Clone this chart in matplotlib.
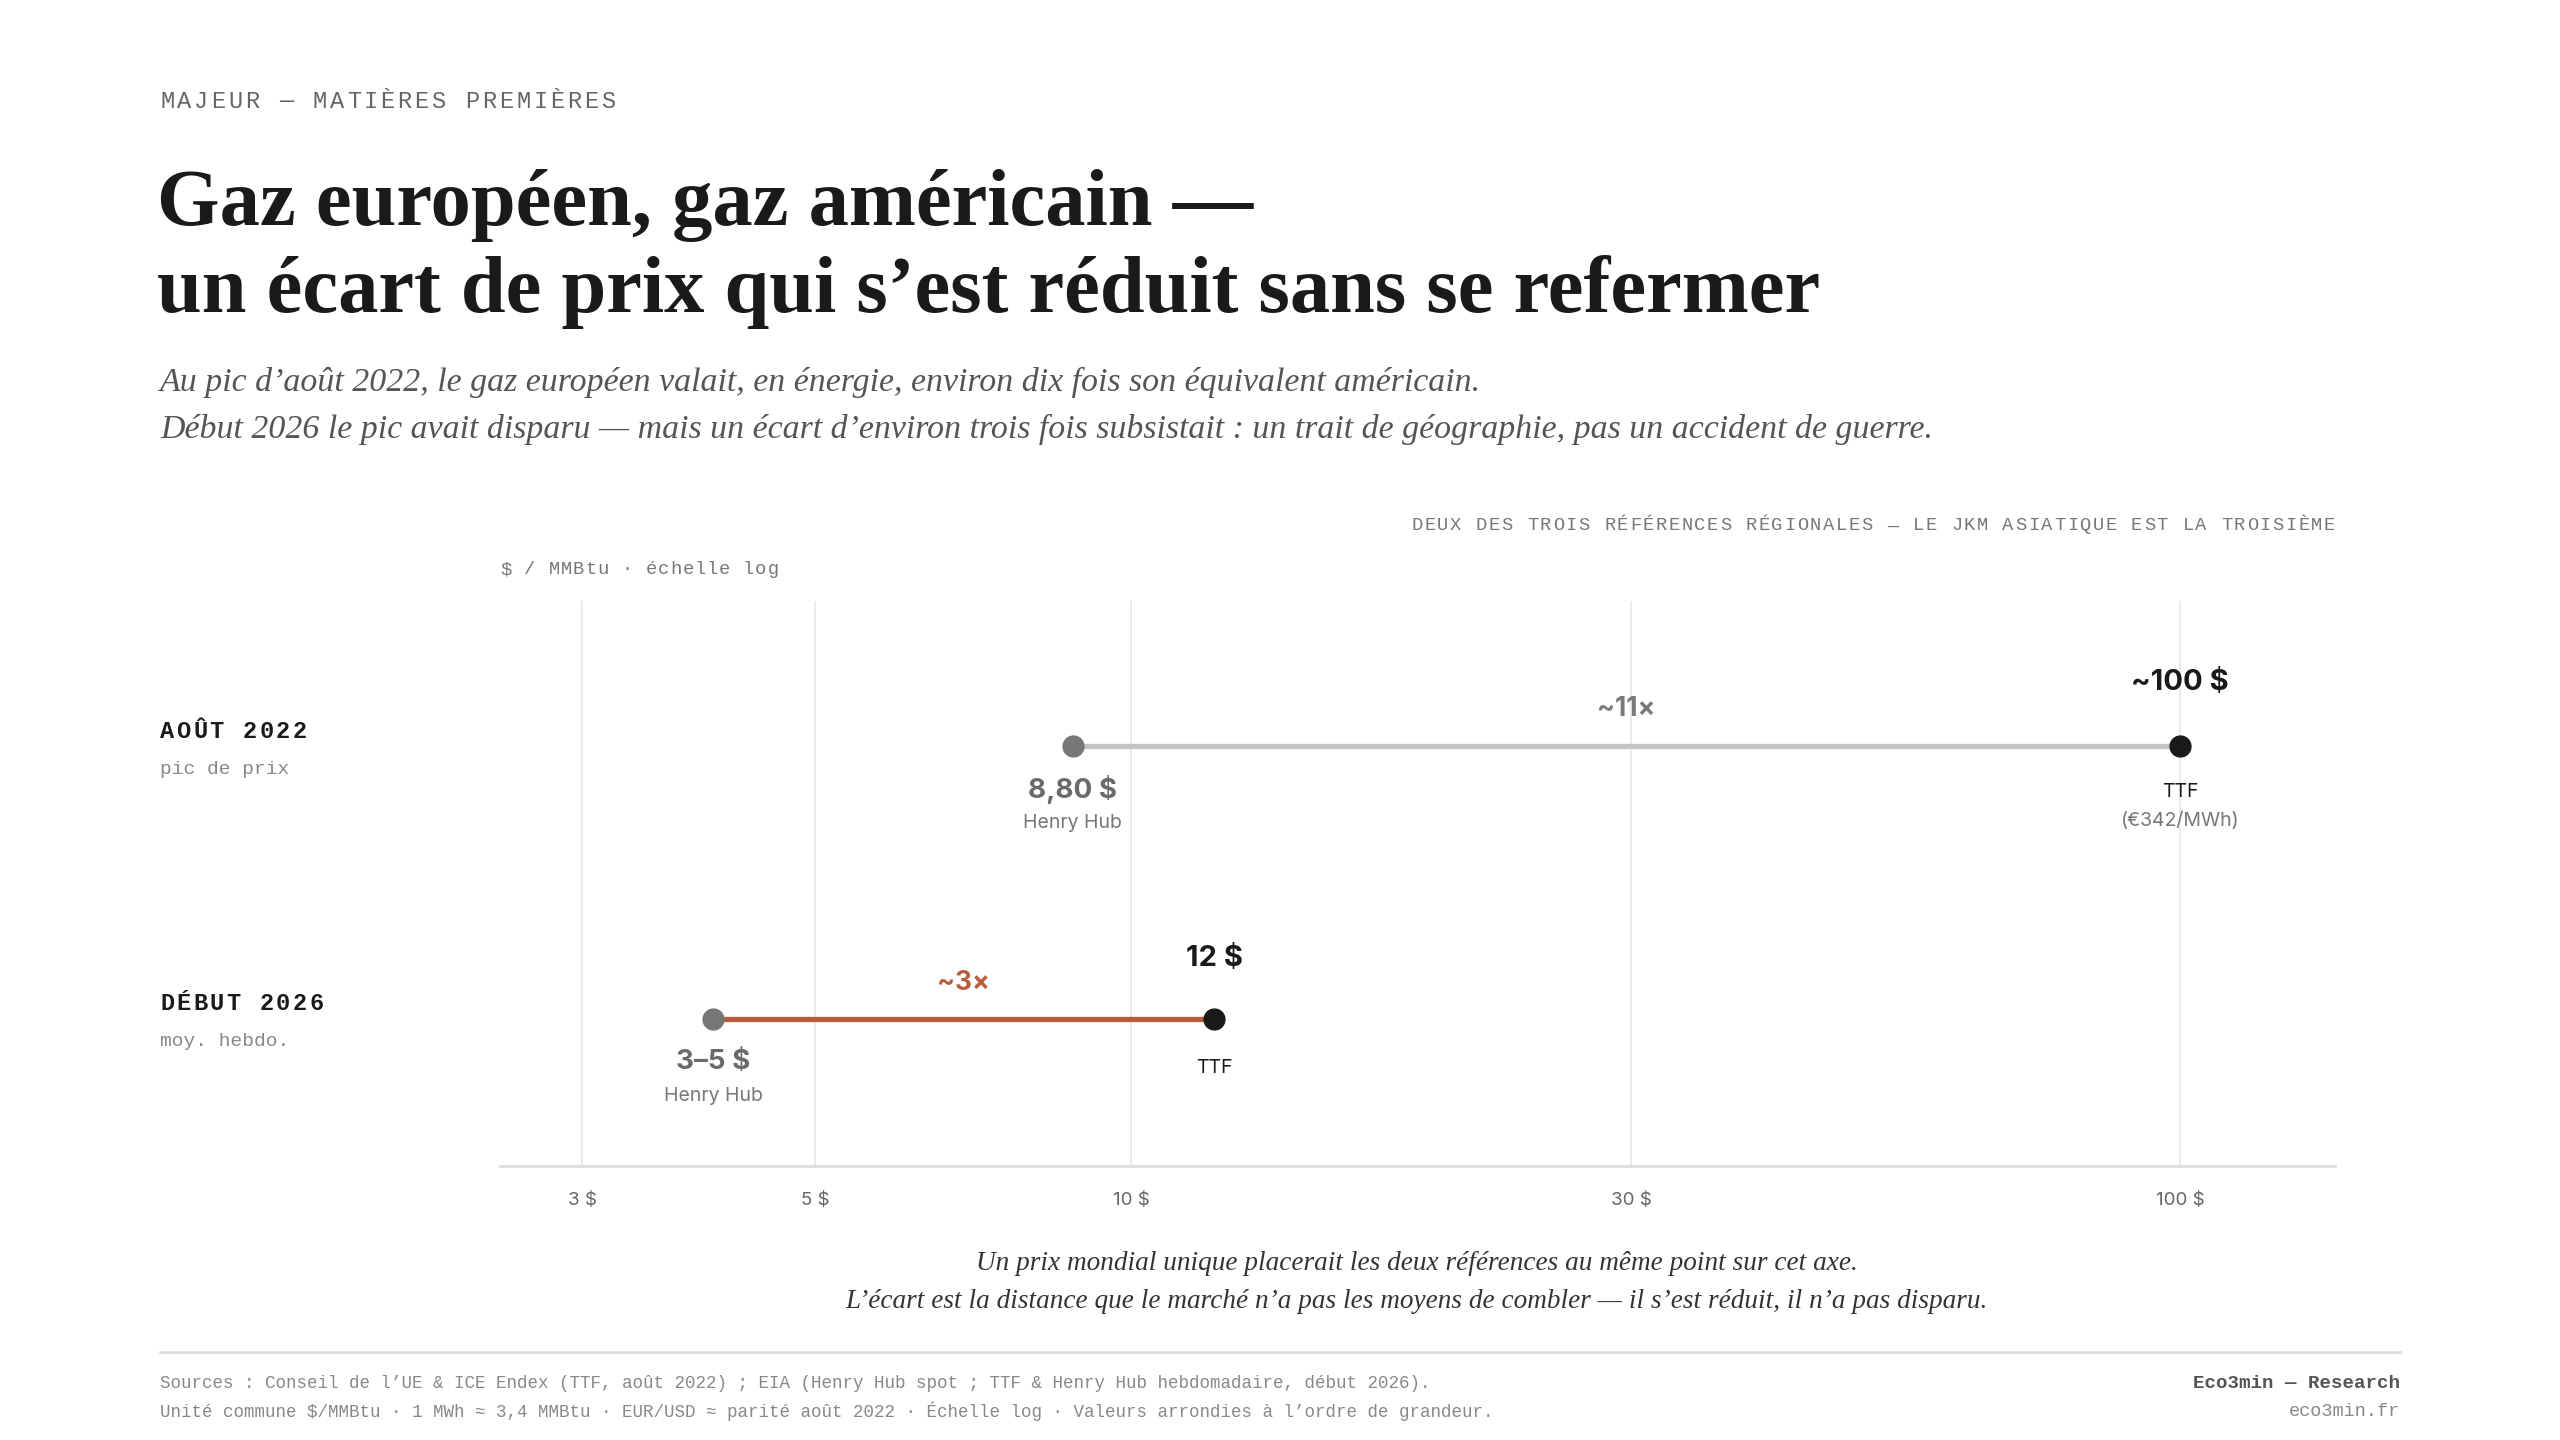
import matplotlib
matplotlib.use("Agg")
import matplotlib.pyplot as plt
import numpy as np

# data
periods = ["AOÛT 2022", "DÉBUT 2026"]
period_notes = ["pic de prix", "moy. hebdo."]
henry_hub = [8.8, 4.0]
ttf = [100, 12]
hh_labels = ["8,80 $", "3–5 $"]
ttf_labels = ["~100 $", "12 $"]
ttf_notes = ["(€342/MWh)", ""]
ratios = ["~11×", "~3×"]
ticks = [3, 5, 10, 30, 100]
tick_labels = ["3 $", "5 $", "10 $", "30 $", "100 $"]

W, H = 2560, 1440
fig = plt.figure(figsize=(25.6, 14.4), dpi=100, facecolor="white")

def fx(px):
    return px / W

def fy(py):
    return 1 - py / H

SERIF = ["Liberation Serif", "DejaVu Serif"]
MONO = ["Liberation Mono", "DejaVu Sans Mono"]
SANS = ["Inter", "DejaVu Sans"]

def mono_spaced(x, y, s, size, spacing, ha="left", **kw):
    # monospace text with letter spacing (spacing in px)
    adv = 0.6 * size * 100 / 72
    step = adv + spacing
    total = len(s) * step - spacing
    x0 = x - total if ha == "right" else x
    for i, ch in enumerate(s):
        if ch == " ":
            continue
        fig.text(fx(x0 + i * step + adv / 2), fy(y), ch, family=MONO, fontsize=size,
                 ha="center", va="center", **kw)

# header
mono_spaced(160, 101, "MAJEUR — MATIÈRES PREMIÈRES", 17, 2.8, color="#666666")
fig.text(fx(157), fy(205), "Gaz européen, gaz américain —", family=SERIF, fontsize=58,
         fontweight="bold", color="#1a1a1a", va="center")
fig.text(fx(157), fy(292), "un écart de prix qui s’est réduit sans se refermer", family=SERIF,
         fontsize=58, fontweight="bold", color="#1a1a1a", va="center")
fig.text(fx(160), fy(382), "Au pic d’août 2022, le gaz européen valait, en énergie, environ dix fois son équivalent américain.",
         family=SERIF, style="italic", fontsize=24.4, color="#555555", va="center")
fig.text(fx(160), fy(429), "Début 2026 le pic avait disparu — mais un écart d’environ trois fois subsistait : un trait de géographie, pas un accident de guerre.",
         family=SERIF, style="italic", fontsize=24.4, color="#555555", va="center")

mono_spaced(2335, 526, "DEUX DES TROIS RÉFÉRENCES RÉGIONALES — LE JKM ASIATIQUE EST LA TROISIÈME",
            13.5, 1.6, ha="right", color="#777777")
mono_spaced(500, 570, "$ / MMBtu · échelle log", 13.5, 0.9, color="#777777")

# chart
ax = fig.add_axes([fx(500), fy(1166), fx(2335) - fx(500), (1166 - 601) / H])
ax.set_xscale("log")
ax.set_xlim(2.504, 140.5)
ax.set_ylim(-0.538, 1.532)
ax.set_xticks(ticks)
ax.set_xticklabels(tick_labels, family=SANS, fontsize=13.5, color="#666666")
ax.minorticks_off()
ax.set_yticks([])
ax.tick_params(axis="x", length=0, pad=19)
for s in ["top", "left", "right"]:
    ax.spines[s].set_visible(False)
ax.spines["bottom"].set_color("#dddddd")
ax.spines["bottom"].set_linewidth(2)
ax.grid(axis="x", color="#ebebeb", linewidth=1.4)
ax.set_axisbelow(True)

row_y = [1, 0]
line_colors = ["#c4c4c4", "#b85c3c"]
ratio_colors = ["#7a7a7a", "#b85c3c"]
top_off = [46, 44]
ttf_off = [-33, -35]
hh_off = [-31, -31]
ratio_off = [27, 26]

for i in range(2):
    y = row_y[i]
    ax.plot([henry_hub[i], ttf[i]], [y, y], color=line_colors[i], lw=3.8, solid_capstyle="butt", zorder=2)
    ax.plot(henry_hub[i], y, "o", color="#777777", markersize=15, zorder=3)
    ax.plot(ttf[i], y, "o", color="#1a1a1a", markersize=15, zorder=3)
    gm = np.sqrt(henry_hub[i] * ttf[i])
    ax.annotate(ratios[i], (gm, y), xytext=(0, ratio_off[i]), textcoords="offset points",
                ha="center", va="center", family=SANS, fontsize=19, fontweight="bold", color=ratio_colors[i])
    ax.annotate(ttf_labels[i], (ttf[i], y), xytext=(0, top_off[i]), textcoords="offset points",
                ha="center", va="center", family=SANS, fontsize=21, fontweight="bold", color="#1a1a1a")
    ax.annotate("TTF", (ttf[i], y), xytext=(0, ttf_off[i]), textcoords="offset points",
                ha="center", va="center", family=SANS, fontsize=14, color="#1a1a1a")
    if ttf_notes[i]:
        ax.annotate(ttf_notes[i], (ttf[i], y), xytext=(0, -54), textcoords="offset points",
                    ha="center", va="center", family=SANS, fontsize=14, color="#777777")
    ax.annotate(hh_labels[i], (henry_hub[i], y), xytext=(0, hh_off[i]), textcoords="offset points",
                ha="center", va="center", family=SANS, fontsize=20, fontweight="bold", color="#6a6a6a")
    ax.annotate("Henry Hub", (henry_hub[i], y), xytext=(0, -55), textcoords="offset points",
                ha="center", va="center", family=SANS, fontsize=14, color="#777777")

# row labels
row_label_y = [731, 1004]
row_note_y = [769, 1042]
for i in range(2):
    mono_spaced(160, row_label_y[i], periods[i], 17, 2.4, fontweight="bold", color="#1a1a1a")
    fig.text(fx(160), fy(row_note_y[i]), period_notes[i], family=MONO, fontsize=14,
             color="#888888", va="center")

# bottom note
fig.text(fx(1417), fy(1263), "Un prix mondial unique placerait les deux références au même point sur cet axe.",
         family=SERIF, style="italic", fontsize=19.6, color="#333333", ha="center", va="center")
fig.text(fx(1417), fy(1301), "L’écart est la distance que le marché n’a pas les moyens de combler — il s’est réduit, il n’a pas disparu.",
         family=SERIF, style="italic", fontsize=19.6, color="#333333", ha="center", va="center")

fig.add_artist(plt.Line2D([fx(160), fx(2400)], [fy(1352), fy(1352)], color="#dddddd", lw=2))

fig.text(fx(160), fy(1383), "Sources : Conseil de l’UE & ICE Endex (TTF, août 2022) ; EIA (Henry Hub spot ; TTF & Henry Hub hebdomadaire, début 2026).",
         family=MONO, fontsize=12.65, color="#888888", va="center")
fig.text(fx(160), fy(1411), "Unité commune $/MMBtu · 1 MWh ≈ 3,4 MMBtu · EUR/USD ≈ parité août 2022 · Échelle log · Valeurs arrondies à l’ordre de grandeur.",
         family=MONO, fontsize=12.65, color="#888888", va="center")
fig.text(fx(2400), fy(1383), "Eco3min — Research", family=MONO, fontsize=13.8, fontweight="bold",
         color="#555555", ha="right", va="center")
fig.text(fx(2400), fy(1411), "eco3min.fr", family=MONO, fontsize=13.4, color="#888888", ha="right", va="center")

fig.savefig("out.png", dpi=100, facecolor="white")
